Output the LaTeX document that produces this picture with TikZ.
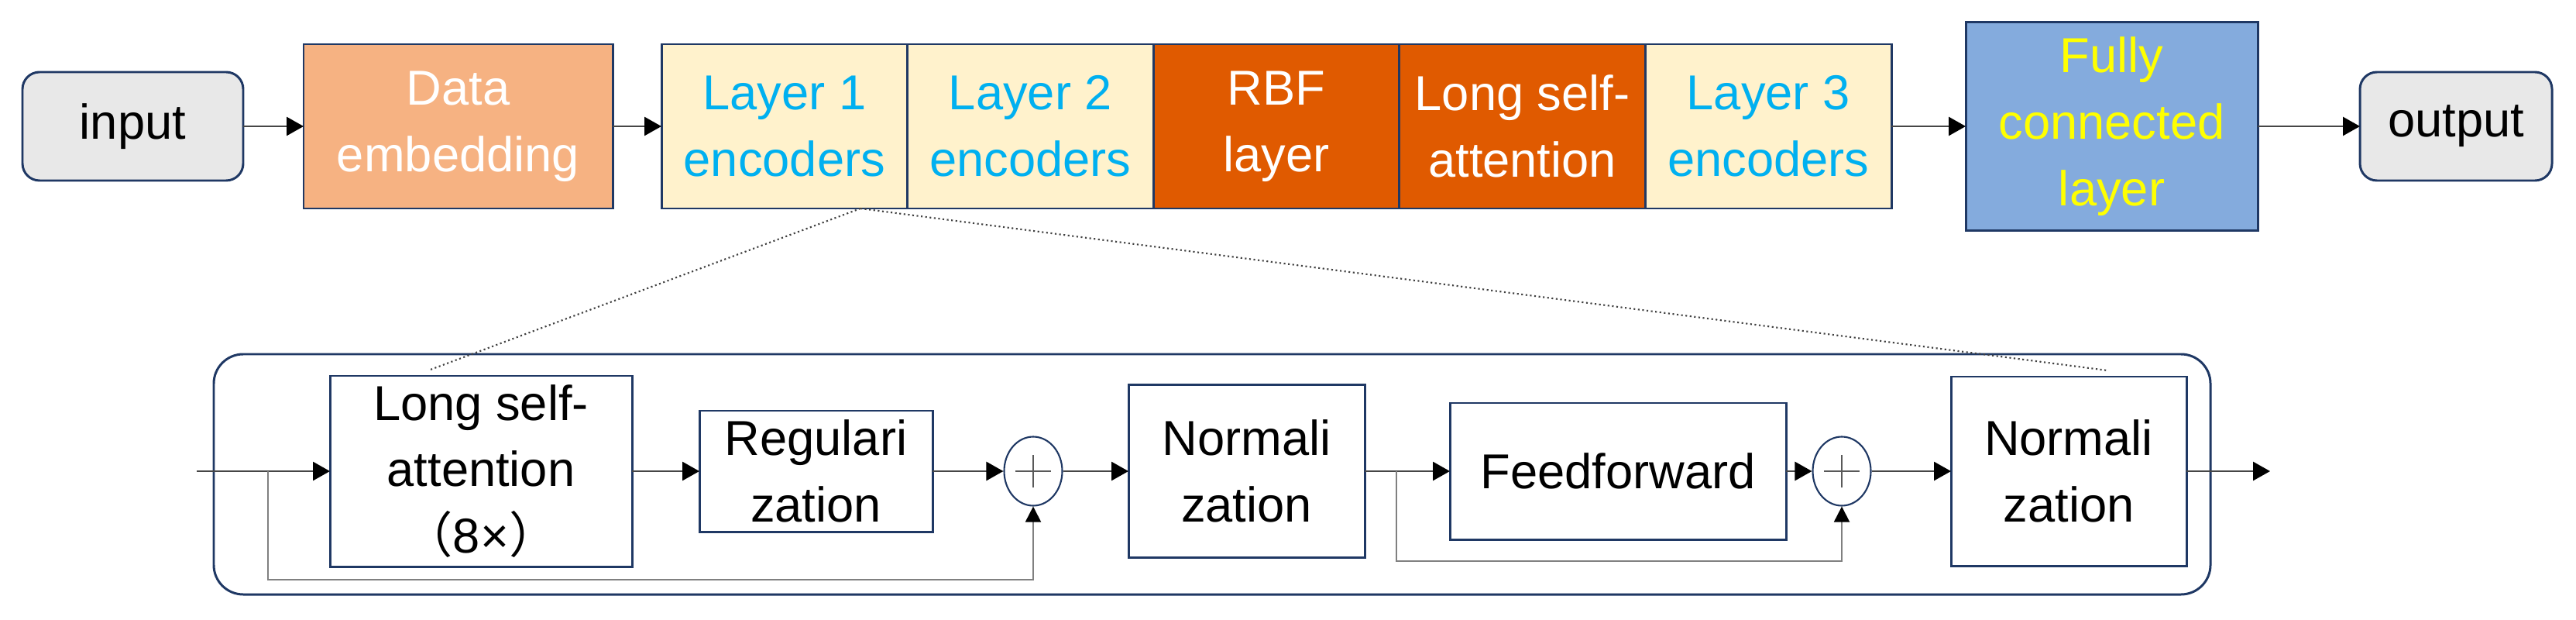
\documentclass[tikz,border=0pt]{standalone}
\usepackage{fontspec}
\setmainfont{Liberation Sans}
\newfontfamily\cjk{Noto Sans CJK SC}
\usetikzlibrary{arrows.meta,shapes.geometric}
\definecolor{navy}{RGB}{31,56,100}
\definecolor{boxgray}{RGB}{232,232,232}
\definecolor{embfill}{RGB}{246,178,130}
\definecolor{encfill}{RGB}{255,242,204}
\definecolor{enctext}{RGB}{0,176,240}
\definecolor{rbffill}{RGB}{224,90,0}
\definecolor{fcfill}{RGB}{132,171,221}
\definecolor{fctext}{RGB}{255,255,0}
\definecolor{wire}{RGB}{70,70,70}

\begin{document}
\begin{tikzpicture}[x=1cm,y=1cm]
    \pgfmathsetmacro{\topy}{6.36}
    \pgfmathsetmacro{\boty}{1.91}
    \pgfmathsetmacro{\encw}{3.176}
    \tikzset{every node/.style={font=\fontsize{18}{24.4}\selectfont}}
    \tikzset{blk/.style={draw=navy,line width=0.85pt,align=center,inner sep=0pt,outer sep=0pt},
        termbox/.style={blk,fill=boxgray,rounded corners=0.22cm,minimum height=1.40cm},
        encbox/.style={blk,fill=encfill,text=enctext,minimum width=\encw cm,minimum height=2.12cm},
        rbfbox/.style={blk,fill=rbffill,text=white,minimum width=\encw cm,minimum height=2.12cm},
        plainbox/.style={blk,fill=white},
        addsym/.style={ellipse,draw=navy,line width=0.6pt,fill=white,minimum width=0.75cm,minimum height=0.89cm,inner sep=0pt},
        arr/.style={draw=wire,line width=0.8pt,-{Triangle[length=0.22cm,width=0.24cm,color=black]}},
        fbarr/.style={draw=gray,line width=0.55pt,-{Triangle[length=0.2cm,width=0.2cm,color=black]}},
        zoomline/.style={draw=gray!50!black,line width=0.6pt,densely dotted}}
    \useasboundingbox (0,0) rectangle (33.26,7.99);
    % top row
    \node[termbox,minimum width=2.85cm] (input) at (1.715,\topy) {input};
    \node[blk,fill=embfill,text=white,minimum width=3.99cm,minimum height=2.12cm] (emb) at (5.915,\topy) {Data\\embedding};
    \node[encbox] (enc1) at (10.128,\topy) {Layer 1\\encoders};
    \node[encbox] (enc2) at (13.304,\topy) {Layer 2\\encoders};
    \node[rbfbox] (rbf) at (16.480,\topy) {RBF\\layer};
    \node[rbfbox] (lsa) at (19.656,\topy) {Long self-\\attention};
    \node[encbox] (enc3) at (22.832,\topy) {Layer 3\\encoders};
    \node[blk,fill=fcfill,text=fctext,minimum width=3.77cm,minimum height=2.69cm] (fc) at (27.265,\topy) {Fully\\connected\\layer};
    \node[termbox,minimum width=2.48cm] (output) at (31.71,\topy) {output};
    \draw[arr] (input.east) -- (emb.west);
    \draw[arr] (emb.east) -- (enc1.west);
    \draw[arr] (enc3.east) -- (fc.west);
    \draw[arr] (fc.east) -- (output.west);
    % encoder block
    \node[draw=navy,line width=0.85pt,rounded corners=0.38cm,minimum width=25.78cm,minimum height=3.10cm,inner sep=0pt] (block) at (15.65,1.87) {};
    \node[plainbox,minimum width=3.90cm,minimum height=2.46cm] (att) at (6.21,\boty) {Long self-\\attention\\{\cjk （}8×{\cjk ）}};
    \node[plainbox,minimum width=3.01cm,minimum height=1.56cm] (reg) at (10.535,\boty) {Regulari\\zation};
    \node[addsym] (add1) at (13.34,\boty) {};
    \node[plainbox,minimum width=3.05cm,minimum height=2.23cm] (norm1) at (16.095,\boty) {Normali\\zation};
    \node[plainbox,minimum width=4.34cm,minimum height=1.76cm] (ff) at (20.89,\boty) {Feedforward};
    \node[addsym] (add2) at (23.78,\boty) {};
    \node[plainbox,minimum width=3.04cm,minimum height=2.44cm] (norm2) at (26.71,\boty) {Normali\\zation};
    \draw[gray!70!black,line width=0.5pt] (add1.center) +(-0.23,0) -- +(0.23,0) +(0,-0.21) -- +(0,0.21);
    \draw[gray!70!black,line width=0.5pt] (add2.center) +(-0.23,0) -- +(0.23,0) +(0,-0.21) -- +(0,0.21);
    \coordinate (in) at (2.54,\boty);
    \coordinate (out) at (29.31,\boty);
    \coordinate (br1) at (3.46,\boty);
    \coordinate (lp1) at (3.46,0.51);
    \coordinate (br2) at (18.03,\boty);
    \coordinate (lp2) at (18.03,0.75);
    \draw[arr] (in) -- (att.west);
    \draw[arr] (att.east) -- (reg.west);
    \draw[arr] (reg.east) -- (add1.west);
    \draw[arr] (add1.east) -- (norm1.west);
    \draw[arr] (norm1.east) -- (ff.west);
    \draw[arr] (ff.east) -- (add2.west);
    \draw[arr] (add2.east) -- (norm2.west);
    \draw[arr] (norm2.east) -- (out);
    \draw[fbarr] (br1) -- (lp1) -| (add1.south);
    \draw[fbarr] (br2) -- (lp2) -| (add2.south);
    % zoom lines
    \coordinate (zsrc) at (11.11,5.30);
    \coordinate (zatt) at (5.53,3.21);
    \coordinate (znorm) at (27.21,3.21);
    \draw[zoomline] (zsrc) -- (zatt);
    \draw[zoomline] (zsrc) -- (znorm);
\end{tikzpicture}
\end{document}
